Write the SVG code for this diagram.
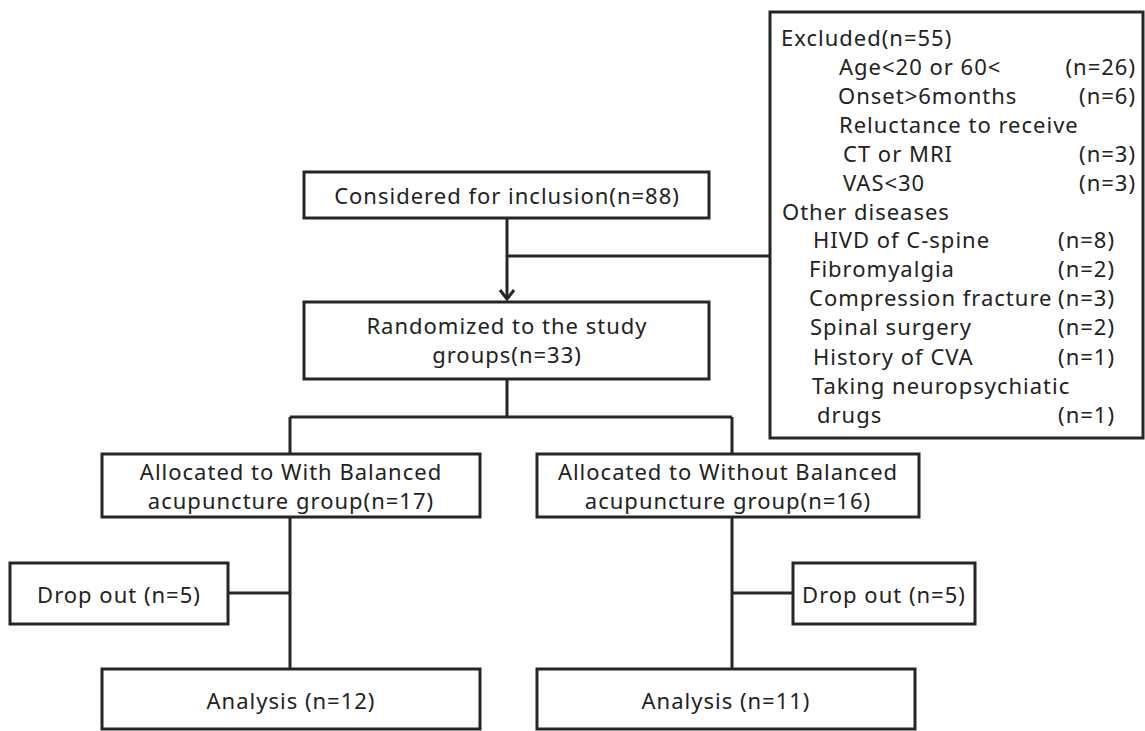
<svg xmlns="http://www.w3.org/2000/svg" width="1145" height="731" viewBox="0 0 1145 731">
<style>
.box{fill:#fff;stroke:#262626;stroke-width:3}
.ln{fill:none;stroke:#262626;stroke-width:3}
text{font-family:"Noto Sans","Liberation Sans",sans-serif;font-size:22px;letter-spacing:1px;fill:#222}
.c{text-anchor:middle}
.r{text-anchor:end}
</style>
<rect width="1145" height="731" fill="#fff"/>
<g id="connectors">
<path class="ln" d="M507,218 V299"/>
<path class="ln" d="M500,290 L507,299 L514,290"/>
<path class="ln" d="M507,256 H770"/>
<path class="ln" d="M507,379 V417"/>
<path class="ln" d="M290,417 H732"/>
<path class="ln" d="M290,417 V454"/>
<path class="ln" d="M732,417 V454"/>
<path class="ln" d="M290,517 V669"/>
<path class="ln" d="M228,593 H290"/>
<path class="ln" d="M732,517 V669"/>
<path class="ln" d="M732,593 H793"/>
</g>
<g id="considered">
<rect class="box" x="304" y="172" width="405" height="46"/>
<text class="c" x="507" y="204">Considered for inclusion(n=88)</text>
</g>
<g id="randomized">
<rect class="box" x="304" y="302" width="405" height="77"/>
<text class="c" x="507" y="334">Randomized to the study</text>
<text class="c" x="507" y="363">groups(n=33)</text>
</g>
<g id="excluded">
<rect class="box" x="770" y="12" width="373" height="426"/>
<text x="781" y="46">Excluded(n=55)</text>
<text x="839" y="75">Age&lt;20 or 60&lt;</text><text class="r" x="1136" y="75">(n=26)</text>
<text x="838" y="104">Onset&gt;6months</text><text class="r" x="1136" y="104">(n=6)</text>
<text x="839" y="133">Reluctance to receive</text>
<text x="843" y="162">CT or MRI</text><text class="r" x="1136" y="162">(n=3)</text>
<text x="843" y="191">VAS&lt;30</text><text class="r" x="1136" y="191">(n=3)</text>
<text x="782" y="220">Other diseases</text>
<text x="813" y="248">HIVD of C-spine</text><text class="r" x="1115" y="248">(n=8)</text>
<text x="809" y="277">Fibromyalgia</text><text class="r" x="1115" y="277">(n=2)</text>
<text x="809" y="306">Compression fracture</text><text class="r" x="1115" y="306">(n=3)</text>
<text x="810" y="335">Spinal surgery</text><text class="r" x="1115" y="335">(n=2)</text>
<text x="813" y="365">History of CVA</text><text class="r" x="1115" y="365">(n=1)</text>
<text x="812" y="394">Taking neuropsychiatic</text>
<text x="817" y="423">drugs</text><text class="r" x="1115" y="423">(n=1)</text>
</g>
<g id="alloc-with">
<rect class="box" x="102" y="454" width="378" height="63"/>
<text class="c" x="291" y="480">Allocated to With Balanced</text>
<text class="c" x="291" y="509">acupuncture group(n=17)</text>
</g>
<g id="alloc-without">
<rect class="box" x="537" y="454" width="382" height="63"/>
<text class="c" x="728" y="480">Allocated to Without Balanced</text>
<text class="c" x="728" y="509">acupuncture group(n=16)</text>
</g>
<g id="drop-with">
<rect class="box" x="10" y="563" width="218" height="61"/>
<text class="c" x="119" y="603">Drop out (n=5)</text>
</g>
<g id="drop-without">
<rect class="box" x="793" y="563" width="182" height="61"/>
<text class="c" x="884" y="603">Drop out (n=5)</text>
</g>
<g id="analysis-with">
<rect class="box" x="102" y="669" width="378" height="60"/>
<text class="c" x="291" y="709">Analysis (n=12)</text>
</g>
<g id="analysis-without">
<rect class="box" x="537" y="669" width="378" height="60"/>
<text class="c" x="726" y="709">Analysis (n=11)</text>
</g>
</svg>
